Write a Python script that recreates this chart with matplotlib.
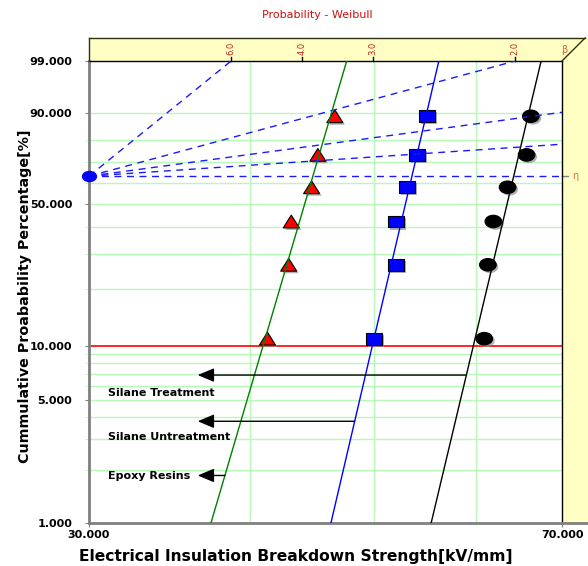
import numpy as np
import matplotlib
matplotlib.use('Agg')
import matplotlib.pyplot as plt
import matplotlib.patheffects as pe
from matplotlib.path import Path
from matplotlib.patches import Polygon
from matplotlib.lines import Line2D
from matplotlib.ticker import NullLocator
from matplotlib.transforms import blended_transform_factory

# Median-rank plotting positions (%) and breakdown strengths (kV/mm)
rank_pct = [10.94, 26.56, 42.19, 57.81, 73.44, 89.06]
epoxy_kv = [41.3, 42.9, 43.1, 44.7, 45.2, 46.6]
untreated_kv = [50.0, 52.0, 52.0, 53.0, 54.0, 55.0]
treated_kv = [60.9, 61.3, 61.9, 63.5, 65.7, 66.2]

# Fitted Weibull lines: shape (beta) and scale (eta), order epoxy / untreated / treated
fit_beta = [25.2, 31.7, 31.1]
fit_eta = [44.8, 53.5, 64.2]

# beta-estimation guides from the pivot point
pivot_kv = 30.0
pivot_pct = 63.21
guide_betas = [6.0, 2.0, 1.0, 0.5, 0.0]
beta_ticks = [6.0, 4.0, 3.0, 2.0]

# annotation arrows: label, start percentage, label percentage
arrow_labels = ['Silane Treatment', 'Silane Untreatment', 'Epoxy Resins']
arrow_pct = [6.9, 3.8, 1.87]
label_pct = [5.48, 3.11, 1.86]
arrow_tip_kv = 36.45
label_kv = 31.05

y_major = [1, 5, 10, 50, 90, 99]
y_major_labels = ['1.000', '5.000', '10.000', '50.000', '90.000', '99.000']
y_grid = [2, 3, 4, 5, 6, 7, 8, 9, 20, 30, 40, 50, 60, 70, 80, 90]
x_grid = [40, 50, 60]


def weibull_fwd(p):
    p = np.clip(np.asarray(p, dtype=float), 1e-9, 100 - 1e-9)
    return np.log(-np.log(1 - p / 100))


def weibull_inv(z):
    return 100 * (1 - np.exp(-np.exp(np.asarray(z, dtype=float))))


def ellipse_marker(sx, sy):
    c = Path.unit_circle()
    return Path(c.vertices * [sx, sy], c.codes)


tri_marker = Path([(-1, -0.8), (1, -0.8), (0, 0.8), (-1, -0.8)],
                  [Path.MOVETO, Path.LINETO, Path.LINETO, Path.CLOSEPOLY])
rect_marker = Path([(-1, -0.75), (1, -0.75), (1, 0.75), (-1, 0.75), (-1, -0.75)],
                   [Path.MOVETO, Path.LINETO, Path.LINETO, Path.LINETO, Path.CLOSEPOLY])

W, H = 588, 566
fig = plt.figure(figsize=(W / 100, H / 100), dpi=100)


def fx(px):
    return px / W


def fy(py):
    return 1 - py / H


L, R, T, B = 89, 562, 61, 523
ax = fig.add_axes([fx(L), fy(B), (R - L) / W, (B - T) / H])

# yellow beta/eta frame
yellow = Polygon([(fx(L), fy(T)), (fx(L), fy(38)), (fx(W), fy(38)), (fx(W), fy(B)),
                  (fx(R), fy(B)), (fx(R), fy(T))], closed=True,
                 transform=fig.transFigure, facecolor='#ffffc4', edgecolor='none', zorder=0)
fig.add_artist(yellow)
for xs, ys in [((L, 585), (38, 38)), ((L, L), (38, T)), ((R, 585), (T, 38))]:
    fig.add_artist(Line2D([fx(v) for v in xs], [fy(v) for v in ys], color='#303010',
                          lw=1, transform=fig.transFigure))
fig.add_artist(Line2D([fx(R), fx(W)], [fy(B), fy(B)], color='#808080', lw=2,
                      transform=fig.transFigure))

ax.set_xscale('log')
ax.set_yscale('function', functions=(weibull_fwd, weibull_inv))
ax.set_xlim(30, 70)
ax.set_ylim(1, 99)

grid_color = '#b8f8b8'
for v in x_grid:
    ax.axvline(v, color=grid_color, lw=1, zorder=1)
for v in y_grid:
    ax.axhline(v, color=grid_color, lw=1, zorder=1)
ax.axhline(10, color='#ff0000', lw=1.2, zorder=1.5)

# beta guides from the pivot
z_top = weibull_fwd(99)
for b in guide_betas:
    x_end = 70.0 if b == 0 else min(70.0, pivot_kv * np.exp(z_top / b))
    p_end = weibull_inv(b * np.log(x_end / pivot_kv) + weibull_fwd(pivot_pct))
    ax.plot([pivot_kv, x_end], [pivot_pct, p_end], color='#1a1aff', lw=1,
            dashes=(5, 4), zorder=3)
ax.plot([pivot_kv], [pivot_pct], marker=ellipse_marker(1, 0.72), ms=10,
        color='#0000ff', mec='#0000ff', clip_on=False, zorder=5)

shadow = [pe.SimplePatchShadow(offset=(1.5, -1.5), shadow_rgbFace='#909090', alpha=0.7),
          pe.Normal()]
series = [
    (epoxy_kv, tri_marker, '#ff0000', 11.5, '#008000'),
    (untreated_kv, rect_marker, '#0000ff', 11.5, '#0000ff'),
    (treated_kv, ellipse_marker(1, 0.75), '#000000', 12, '#000000'),
]
for (xs, mk, fc, ms, lc), b, eta in zip(series, fit_beta, fit_eta):
    ax.plot(xs, rank_pct, ls='none', marker=mk, ms=ms, mfc=fc, mec='black', mew=0.8,
            zorder=2, path_effects=shadow)
    ends = np.array([1.0, 99.0])
    ax.plot(eta * (-np.log(1 - ends / 100)) ** (1 / b), ends, color=lc, lw=1, zorder=4)

# arrows from the fitted lines to the labels
line_color = {0: 2, 1: 1, 2: 0}
for i, (txt, pa, pl) in enumerate(zip(arrow_labels, arrow_pct, label_pct)):
    k = line_color[i]
    x0 = fit_eta[k] * (-np.log(1 - pa / 100)) ** (1 / fit_beta[k])
    ax.annotate('', xy=(arrow_tip_kv, pa), xytext=(x0, pa),
                arrowprops=dict(arrowstyle='-|>,head_length=1.0,head_width=0.42',
                                mutation_scale=10, color='black', lw=1,
                                shrinkA=0, shrinkB=0), zorder=5)
    ax.text(label_kv, pl, txt, fontsize=8, fontweight='bold', ha='left', va='center',
            zorder=6)

# beta scale along the top
btrans = blended_transform_factory(ax.transData, ax.transAxes)
for b in beta_ticks:
    xb = pivot_kv * np.exp(z_top / b)
    ax.plot([xb, xb], [1, 1 + 4 / (B - T)], color='black', lw=1, transform=btrans,
            clip_on=False)
    ax.text(xb, 1 + 6 / (B - T), f'{b:.1f}', rotation=90, ha='center', va='bottom',
            fontsize=6, color='#cc2020', transform=btrans)
fig.text(fx(564), fy(50), '\u03b2', fontsize=7, color='#e05a3a', ha='center', va='center')

# eta marker on the right
etrans = blended_transform_factory(ax.transAxes, ax.transData)
ax.plot([1, 1 + 6 / (R - L)], [pivot_pct, pivot_pct], color='#808080', lw=1,
        transform=etrans, clip_on=False)
ax.text(1 + 10 / (R - L), pivot_pct, '\u03b7', fontsize=7, color='#e07050',
        ha='left', va='center', transform=etrans)

# axes styling
for side in ['left', 'bottom']:
    ax.spines[side].set_color('#808080')
    ax.spines[side].set_linewidth(2)
for side in ['top', 'right']:
    ax.spines[side].set_color('black')
    ax.spines[side].set_linewidth(1)

ax.set_xticks([30, 70], labels=['30.000', '70.000'])
ax.xaxis.set_minor_locator(NullLocator())
ax.set_yticks(y_major, labels=y_major_labels)
ax.set_yticks(y_grid, minor=True)
ax.tick_params(axis='x', which='major', length=3, color='#808080', pad=2)
ax.tick_params(axis='y', which='major', length=3, color='#808080', pad=9)
ax.tick_params(axis='y', which='minor', length=3, color=grid_color)
for lab in ax.get_xticklabels() + ax.get_yticklabels():
    lab.set_fontweight('bold')
    lab.set_fontsize(8)

fig.text(fx(317), fy(15), 'Probability - Weibull', fontsize=8, color='#cc1111',
         ha='center', va='center')
fig.text(fx(296), fy(556), 'Electrical Insulation Breakdown Strength[kV/mm]',
         fontsize=11.2, fontweight='bold', ha='center', va='center')
fig.text(fx(25), fy(296), 'Cummulative Proabability Percentage[%]', fontsize=10.3,
         fontweight='bold', ha='center', va='center', rotation=90)

fig.savefig('out.png', dpi=100)
